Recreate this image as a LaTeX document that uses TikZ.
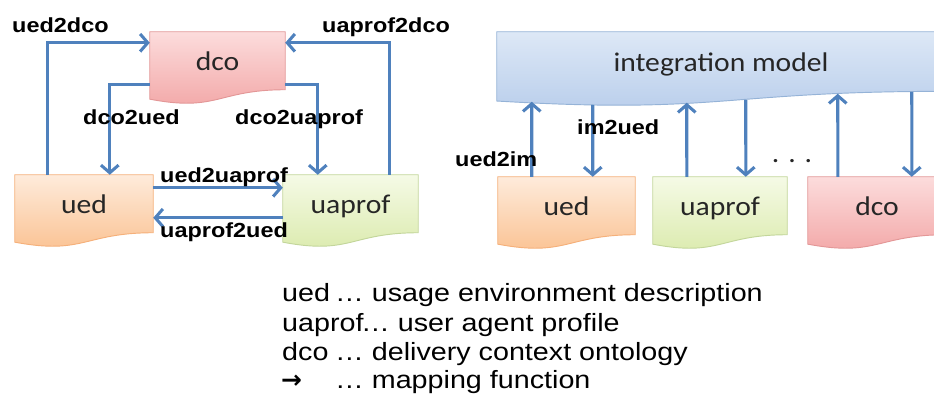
\documentclass[tikz,border=0pt]{standalone}
\usepackage{fontspec}
\usetikzlibrary{calc,arrows.meta,backgrounds}
\setmainfont{Liberation Sans}
\newfontfamily\boxfont[FakeStretch=1.1]{Carlito}
\newfontfamily\lblfont[FakeStretch=1.15]{Liberation Sans}
\newfontfamily\symfont{DejaVu Sans}

\definecolor{mapblue}{HTML}{4F81BD}
\definecolor{dcotop}{HTML}{FCDCDC}
\definecolor{dcobot}{HTML}{F2A5A5}
\definecolor{dcoline}{HTML}{E39797}
\definecolor{uedtop}{HTML}{FEEBDB}
\definecolor{uedbot}{HTML}{FAC08F}
\definecolor{uedline}{HTML}{F5B07A}
\definecolor{proftop}{HTML}{F5FAE6}
\definecolor{profbot}{HTML}{DAEAAB}
\definecolor{profline}{HTML}{C3D69B}
\definecolor{imtop}{HTML}{DDE8F6}
\definecolor{imbot}{HTML}{B8CDEB}
\definecolor{imline}{HTML}{95B3D7}

% document shape with a wavy lower edge, drawn round a node
\newcommand{\wavedoc}[2]{%
  \path[#2] (#1.north west) -- (#1.north east)
    -- ($(#1.north east)!0.8!(#1.south east)$)
    .. controls ($(#1.north)!0.8!(#1.south)$) and ($(#1.north)!1.11!(#1.south)$)
    .. ($(#1.north west)!0.93!(#1.south west)$) -- cycle;}

\tikzset{
  doc/.style={inner sep=0pt, minimum height=2.16cm, text=black!85,
    text height=0.7em, text depth=0.35em,
    font=\boxfont\fontsize{23}{26}\selectfont},
  lbl/.style={anchor=base west, inner sep=0pt,
    font=\lblfont\bfseries\fontsize{17.4}{20}\selectfont},
  legend/.style={anchor=base west, inner sep=0pt,
    font=\lblfont\fontsize{21.3}{24}\selectfont},
  map/.style={draw=mapblue, line width=2.6pt, -{Straight Barb[length=6.5pt,width=15pt]}},
  dcofill/.style={top color=dcotop, bottom color=dcobot, draw=dcoline, line width=0.8pt},
  uedfill/.style={top color=uedtop, bottom color=uedbot, draw=uedline, line width=0.8pt},
  proffill/.style={top color=proftop, bottom color=profbot, draw=profline, line width=0.8pt},
  imfill/.style={top color=imtop, bottom color=imbot, draw=imline, line width=0.8pt}
}

\begin{document}
\begin{tikzpicture}[x=0.03cm, y=-0.03cm]

	\useasboundingbox (0,0) rectangle (934,405);

	% left: direct mappings
	\node[doc, minimum width=4.05cm] (dco) at (217.5, 68) {dco};
	\node[doc, minimum width=4.14cm] (ued) at ( 84.0,211) {ued};
	\node[doc, minimum width=4.05cm] (uaprof) at (350.5,211) {uaprof};

	% right: via integration model
	\node[doc, minimum width=13.44cm, minimum height=2.22cm] (im) at (721,69) {integration model};
	\node[doc, minimum width=4.11cm] (imued) at (566.5,213) {ued};
	\node[doc, minimum width=4.02cm] (improf) at (720.0,213) {uaprof};
	\node[doc, minimum width=4.14cm] (imdco) at (877.0,213) {dco};

	\begin{scope}[on background layer]
		\wavedoc{dco}{dcofill}
		\wavedoc{ued}{uedfill}
		\wavedoc{uaprof}{proffill}
		\wavedoc{im}{imfill}
		\wavedoc{imued}{uedfill}
		\wavedoc{improf}{proffill}
		\wavedoc{imdco}{dcofill}
	\end{scope}

	\draw[map] ($(ued.north west)+(33,0)$) |- ($(dco.north west)+(0,11)$);
	\draw[map] ($(uaprof.north east)+(-29,0)$) |- ($(dco.north east)+(0,11)$);
	\draw[map] ($(dco.north west)+(0,53)$) -| ($(ued.north west)+(95,0)$);
	\draw[map] ($(dco.north east)+(0,53)$) -| ($(uaprof.north west)+(35,0)$);
	\draw[map] ($(ued.north east)+(0,13)$) -- ($(uaprof.north west)+(0,13)$);
	\draw[map] ($(uaprof.north west)+(0,43)$) -- ($(ued.north east)+(0,43)$);

	\draw[map] ($(imued.north west)+(34,0)$) -- ($(im.north west)+(35,70)$);
	\draw[map] ($(im.north west)+(96,73)$) -- ($(imued.north west)+(95,0)$);
	\draw[map] ($(improf.north west)+(34,0)$) -- ($(im.north west)+(190,71)$);
	\draw[map] ($(im.north west)+(249,68)$) -- ($(improf.north west)+(93,0)$);
	\draw[map] ($(imdco.north west)+(30,0)$) -- ($(im.north west)+(341,62)$);
	\draw[map] ($(im.north west)+(415,60)$) -- ($(imdco.north west)+(104,0)$);

	\node[lbl] (l1) at ( 12, 33) {ued2dco};
	\node[lbl] (l2) at (322, 33) {uaprof2dco};
	\node[lbl] (l3) at ( 83,125) {dco2ued};
	\node[lbl] (l4) at (235,125) {dco2uaprof};
	\node[lbl] (l5) at (160,183) {ued2uaprof};
	\node[lbl] (l6) at (160,238) {uaprof2ued};
	\node[lbl] (l7) at (455,167) {ued2im};
	\node[lbl] (l8) at (577,135) {im2ued};
	\node[doc, anchor=base, text height=, text depth=] (dots) at (792,163) {.\,\,.\,\,.};

	% legend
	\node[legend] (t1) at (282,302) {ued};
	\node[legend] (d1) at (335,302) {… usage environment description};
	\node[legend] (t2) at (282,331) {uaprof};
	\node[legend] (d2) at (361,331) {… user agent profile};
	\node[legend] (t3) at (282,360) {dco};
	\node[legend] (d3) at (335,360) {… delivery context ontology};
	\node[legend] (t4) at (281,388) {\symfont\bfseries →};
	\node[legend] (d4) at (335,388) {… mapping function};

\end{tikzpicture}
\end{document}
